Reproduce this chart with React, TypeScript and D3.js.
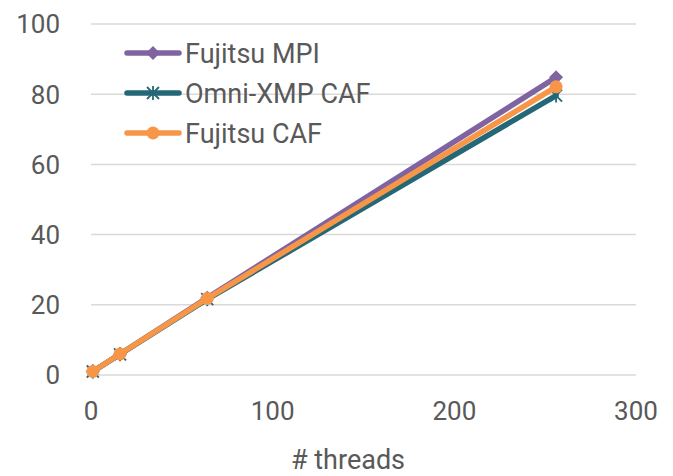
import React from "react";
import * as d3 from "d3";

const threads = [1, 16, 64, 256];
const fujitsuMPI = [1, 6, 22, 84.8];
const omniCAF = [1, 5.9, 21.6, 79.6];
const fujitsuCAF = [1, 6, 21.8, 82.1];
const seriesNames = ["Fujitsu MPI", "Omni-XMP CAF", "Fujitsu CAF"];
const seriesColors = ["#8064a2", "#246878", "#f79646"];
const yTicks = [0, 20, 40, 60, 80, 100];
const xTicks = [0, 100, 200, 300];
const xTitle = "# threads";

const W = 673, H = 476;
const FONT = "Roboto, 'Liberation Sans', sans-serif";
const TXT = "#595959";

function Marker({ kind, x, y, color }: { kind: number; x: number; y: number; color: string }) {
  if (kind === 0) {
    const s = 7;
    return <path d={`M${x},${y - s}L${x + s},${y}L${x},${y + s}L${x - s},${y}Z`} fill={color} />;
  }
  if (kind === 1) {
    const s = 6;
    return (
      <g stroke={color} strokeWidth={1.8}>
        <line x1={x - s} y1={y - s} x2={x + s} y2={y + s} />
        <line x1={x - s} y1={y + s} x2={x + s} y2={y - s} />
        <line x1={x} y1={y - s - 1} x2={x} y2={y + s + 1} />
      </g>
    );
  }
  return <circle cx={x} cy={y} r={6.5} fill={color} />;
}

export default function App() {
  const x = d3.scaleLinear().domain([0, 300]).range([91, 636]);
  const y = d3.scaleLinear().domain([0, 100]).range([375, 24]);
  const data = [fujitsuMPI, omniCAF, fujitsuCAF];
  const line = d3
    .line<[number, number]>()
    .x((d) => x(d[0]))
    .y((d) => y(d[1]));

  return (
    <svg width={W} height={H} style={{ position: "absolute", left: 0, top: 0, background: "#fff" }}>
      <rect width={W} height={H} fill="#fff" />
      {yTicks.map((t) => (
        <g key={t}>
          <line x1={x(0)} x2={x(300)} y1={y(t)} y2={y(t)} stroke="#d9d9d9" strokeWidth={1.5} />
          <text x={60} y={y(t)} dy="0.36em" textAnchor="end" fontFamily={FONT} fontSize={26} fill={TXT}>
            {t}
          </text>
        </g>
      ))}
      {xTicks.map((t) => (
        <text key={t} x={x(t)} y={420} textAnchor="middle" fontFamily={FONT} fontSize={26} fill={TXT}>
          {t}
        </text>
      ))}
      <text x={348} y={469} textAnchor="middle" fontFamily={FONT} fontSize={27} fill={TXT}>
        {xTitle}
      </text>
      {data.map((vals, i) => {
        const pts = threads.map((t, j) => [t, vals[j]] as [number, number]);
        return (
          <g key={i}>
            <path d={line(pts) || ""} fill="none" stroke={seriesColors[i]} strokeWidth={5.5} strokeLinejoin="round" strokeLinecap="round" />
            {pts.map((p, j) => (
              <Marker key={j} kind={i} x={x(p[0])} y={y(p[1])} color={seriesColors[i]} />
            ))}
          </g>
        );
      })}
      {seriesNames.map((n, i) => {
        const ly = 53 + i * 40;
        return (
          <g key={n}>
            <line x1={127} x2={179} y1={ly} y2={ly} stroke={seriesColors[i]} strokeWidth={5.5} strokeLinecap="round" />
            <Marker kind={i} x={153} y={ly} color={seriesColors[i]} />
            <text x={185} y={ly} dy="0.36em" fontFamily={FONT} fontSize={27} fill={TXT}>
              {n}
            </text>
          </g>
        );
      })}
    </svg>
  );
}
